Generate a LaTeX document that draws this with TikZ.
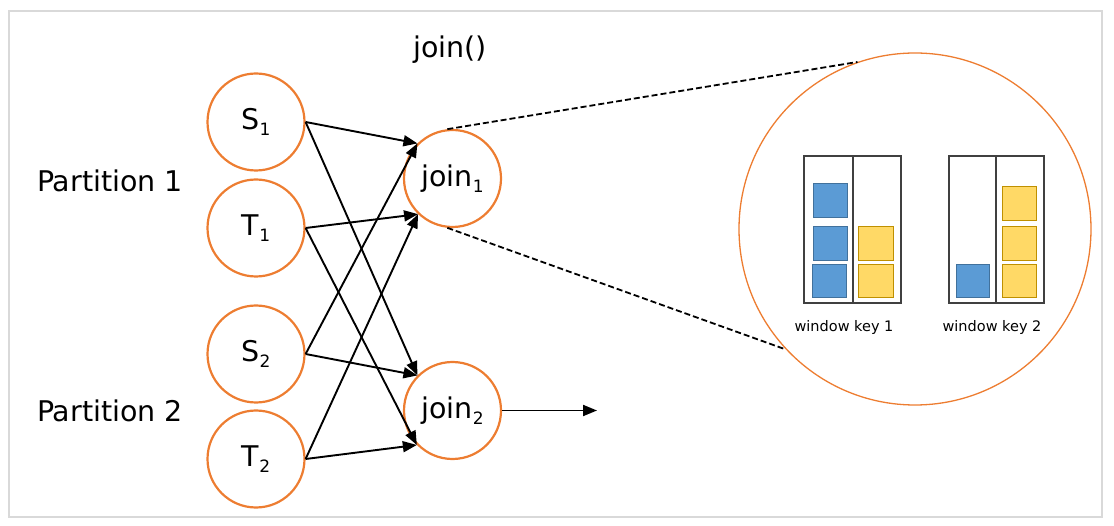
\documentclass[tikz,border=0pt]{standalone}
\usepackage{fontspec}
\setmainfont{DejaVu Sans}
\usetikzlibrary{arrows.meta}
\definecolor{nodeorange}{HTML}{ED7D31}
\definecolor{keyblue}{HTML}{5B9BD5}
\definecolor{keyblueline}{HTML}{41719C}
\definecolor{keyyellow}{HTML}{FFD966}
\definecolor{keyyellowline}{HTML}{BF9000}
\definecolor{framegray}{HTML}{D9D9D9}
\newcommand{\idx}[1]{\raisebox{-6pt}{\fontsize{17}{17}\selectfont #1}}
\tikzset{
  stream/.style={circle, draw=nodeorange, line width=2.2pt, minimum size=97pt, inner sep=0pt, font=\fontsize{28.5}{30}\selectfont},
  feed/.style={-{Triangle[length=14pt,width=11pt]}, line width=1.9pt},
  zoomline/.style={dash pattern=on 6pt off 3pt, line width=1.8pt},
  winbox/.style={draw=black!75, line width=1.6pt},
  bluekey/.style={fill=keyblue, draw=keyblueline, line width=1pt},
  yellowkey/.style={fill=keyyellow, draw=keyyellowline, line width=1pt},
}
\begin{document}
\begin{tikzpicture}[x=1pt, y=-1pt]
    \useasboundingbox (0,0) rectangle (1114,526);
    \draw[framegray, line width=2pt] (9,11) rectangle (1102,517);
    \node[font=\fontsize{28.5}{30}\selectfont] (title) at (450,50) {join()};
    \node[font=\fontsize{28.5}{30}\selectfont] (part1) at (110,181) {Partition 1};
    \node[font=\fontsize{28.5}{30}\selectfont] (part2) at (110,411) {Partition 2};
    \node[stream] (s1) at (256,122) {S\idx{1}};
    \node[stream] (t1) at (256,228) {T\idx{1}};
    \node[stream] (s2) at (256,354) {S\idx{2}};
    \node[stream] (t2) at (256,459) {T\idx{2}};
    \node[stream] (join1) at (452.5,178.5) {join\idx{1}};
    \node[stream] (join2) at (452.5,410.5) {join\idx{2}};
    \coordinate (out) at (597,410.5);
    \draw[feed] (s1.east) -- (join1.135);
    \draw[feed] (s2.east) -- (join1.135);
    \draw[feed] (t1.east) -- (join1.226);
    \draw[feed] (t2.east) -- (join1.226);
    \draw[feed] (s1.east) -- (join2.135);
    \draw[feed] (s2.east) -- (join2.135);
    \draw[feed] (t1.east) -- (join2.224);
    \draw[feed] (t2.east) -- (join2.224);
    \draw[feed] (join2.east) -- (out);
    % zoomed state of join1
    \node[circle, draw=nodeorange, line width=1.3pt, minimum size=352pt, inner sep=0pt] (state) at (915,229) {};
    \draw[zoomline] (join1.96) -- (state.109);
    \draw[zoomline] (join1.264) -- (state.223);
    % window key 1
    \draw[winbox] (804,156) rectangle (901,303);
    \draw[winbox] (853,156) -- (853,303);
    \draw[bluekey] (813,184) rectangle (847,218);
    \draw[bluekey] (813,227) rectangle (847,261);
    \draw[bluekey] (812,265) rectangle (846,298);
    \draw[yellowkey] (858,227) rectangle (893,261);
    \draw[yellowkey] (858,265) rectangle (893,298);
    \node[font=\fontsize{14.5}{16}\selectfont] (key1) at (844,328) {window key 1};
    % window key 2
    \draw[winbox] (949,156) rectangle (1044,303);
    \draw[winbox] (996,156) -- (996,303);
    \draw[bluekey] (956,265) rectangle (989,298);
    \draw[yellowkey] (1002,187) rectangle (1036,221);
    \draw[yellowkey] (1002,227) rectangle (1036,261);
    \draw[yellowkey] (1002,265) rectangle (1036,298);
    \node[font=\fontsize{14.5}{16}\selectfont] (key2) at (992,328) {window key 2};
\end{tikzpicture}
\end{document}
